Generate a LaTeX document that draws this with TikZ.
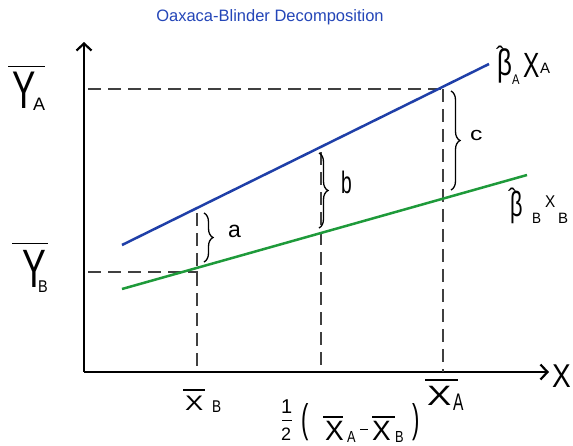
\documentclass[tikz,border=0pt]{standalone}
\usepackage{fontspec}
\usepackage{graphicx}
\setmainfont{Liberation Sans}
\usetikzlibrary{arrows.meta,decorations.pathreplacing}
\definecolor{lineblue}{HTML}{1F3FA8}
\definecolor{titleblue}{HTML}{2446B8}
\definecolor{linegreen}{HTML}{1E9A3A}
% place #3 at offset (#1,#2) from the label origin
\newcommand{\glyphat}[3]{\rlap{\hspace*{#1}\raisebox{#2}{#3}}}
\newcommand{\fs}[1]{\fontsize{#1}{#1}\selectfont}
\newcommand{\barline}[1]{\rule{#1}{1.2pt}}
\tikzset{
  axis/.style={line width=2.8pt,-{Straight Barb[length=7pt,width=15pt,line width=2.2pt]}},
  guide/.style={line width=1.2pt,black!75,dash pattern=on 13pt off 7pt},
  fitline/.style={line width=2.5pt},
  gap/.style={line width=1.3pt,decorate,decoration={brace,amplitude=9pt}},
  hand/.style={inner sep=0pt,anchor=base west}
}
\begin{document}
\begin{tikzpicture}[x=1pt,y=-1pt]
\useasboundingbox[fill=white] (0,0) rectangle (573,445);
\node[text=titleblue,font=\fs{16.5}] (title) at (270,17) {Oaxaca-Blinder Decomposition};
% axes
\coordinate (O) at (84,372);
\coordinate (ytop) at (84,42);
\coordinate (xend) at (549,372);
\draw[axis] (O) -- (ytop);
\draw[axis] (O) -- (xend);
\node[hand] (xlab) at (552,387) {\scalebox{0.85}[1]{\fs{33}X}};
% key points
\coordinate (bA0) at (122,245);
\coordinate (bA1) at (489,64);
\coordinate (bB0) at (122,289);
\coordinate (bB1) at (527,175);
\coordinate (YAl) at (88,89);
\coordinate (YAr) at (443,89);
\coordinate (YBl) at (88,272);
\coordinate (YBr) at (198,272);
\coordinate (v1t) at (197,213);
\coordinate (v1b) at (197,372);
\coordinate (v2t) at (321,152);
\coordinate (v2b) at (321,372);
\coordinate (v3t) at (443,89);
\coordinate (v3b) at (443,372);
% guides
\draw[guide] (YAl) -- (YAr);
\draw[guide] (YBl) -- (YBr);
\draw[guide] (v1t) -- (v1b);
\draw[guide] (v2t) -- (v2b);
\draw[guide] (v3t) -- (v3b);
% fitted lines
\draw[fitline,lineblue] (bA0) -- (bA1);
\draw[fitline,linegreen] (bB0) -- (bB1);
% braces
\coordinate (a0) at (204,213);
\coordinate (a1) at (204,262);
\coordinate (b0) at (319,153);
\coordinate (b1) at (319,228);
\coordinate (c0) at (451,91);
\coordinate (c1) at (451,190);
\draw[gap] (a0) -- (a1);
\draw[gap] (b0) -- (b1);
\draw[gap] (c0) -- (c1);
\node[hand] (la) at (228,237) {\fs{23}a};
\node[hand] (lb) at (341,193) {\scalebox{0.62}[1]{\fs{31}b}};
\node[hand] (lc) at (470,140) {\scalebox{1.3}[1]{\fs{19}c}};
% Y-axis labels
\node[hand] (YA) at (12,108) {\glyphat{0pt}{0pt}{\scalebox{0.66}[1]{\fs{53}Y}}%
  \glyphat{-4pt}{41pt}{\barline{37pt}}%
  \glyphat{21pt}{-2pt}{\fs{18}A}\hspace*{33pt}};
\node[hand] (YB) at (22,287) {\glyphat{0pt}{0pt}{\scalebox{0.66}[1]{\fs{54}Y}}%
  \glyphat{-10pt}{43pt}{\barline{36pt}}%
  \glyphat{16pt}{-5pt}{\scalebox{0.85}[1]{\fs{17}B}}\hspace*{28pt}};
% X-axis labels
\node[hand] (XB) at (185,410) {\glyphat{0pt}{0pt}{\scalebox{1.3}[1]{\fs{21}X}}%
  \glyphat{-2pt}{19.5pt}{\barline{22pt}}%
  \glyphat{27pt}{-2pt}{\scalebox{0.8}[1]{\fs{17}B}}\hspace*{37pt}};
\node[hand] (XA) at (427,405) {\glyphat{0pt}{0pt}{\scalebox{1.3}[1]{\fs{28}X}}%
  \glyphat{-2pt}{24.5pt}{\barline{33pt}}%
  \glyphat{26pt}{-5pt}{\scalebox{0.65}[1]{\fs{24}A}}\hspace*{36pt}};
\node[hand] (half) at (281,440) {%
  \glyphat{0pt}{27pt}{\fs{20}1}%
  \glyphat{1pt}{19.5pt}{\rule{10pt}{1pt}}%
  \glyphat{0pt}{0pt}{\fs{18}2}%
  \glyphat{20pt}{8pt}{\scalebox{0.55}[1]{\fs{40}(}}%
  \glyphat{44pt}{0pt}{\fs{28}X}%
  \glyphat{42pt}{22.5pt}{\barline{20pt}}%
  \glyphat{66pt}{-2pt}{\scalebox{0.8}[1]{\fs{16}A}}%
  \glyphat{79pt}{10pt}{\rule{8pt}{1.1pt}}%
  \glyphat{91pt}{0pt}{\fs{28}X}%
  \glyphat{91pt}{22.5pt}{\barline{23pt}}%
  \glyphat{114pt}{-2pt}{\scalebox{0.8}[1]{\fs{16}B}}%
  \glyphat{131pt}{8pt}{\scalebox{0.55}[1]{\fs{40})}}%
  \hspace*{140pt}};
% fitted-line labels
\node[hand] (betaA) at (497,75) {\glyphat{0pt}{0pt}{\scalebox{0.7}[1]{\fs{37}β}}%
  \glyphat{-1pt}{12pt}{\fs{24}ˆ}%
  \glyphat{15pt}{-9pt}{\scalebox{0.8}[1]{\fs{14}A}}%
  \glyphat{26pt}{-2pt}{\scalebox{0.7}[1]{\fs{35}X}}%
  \glyphat{43pt}{2pt}{\fs{15}A}\hspace*{58pt}};
\node[hand] (betaB) at (510,216) {\glyphat{0pt}{0pt}{\scalebox{0.62}[1]{\fs{35}β}}%
  \glyphat{-2pt}{11pt}{\fs{24}ˆ}%
  \glyphat{22pt}{-7pt}{\scalebox{0.9}[1]{\fs{15}B}}%
  \glyphat{35pt}{9pt}{\scalebox{0.9}[1]{\fs{17}X}}%
  \glyphat{48pt}{-7pt}{\fs{15}B}\hspace*{60pt}};
\end{tikzpicture}
\end{document}
